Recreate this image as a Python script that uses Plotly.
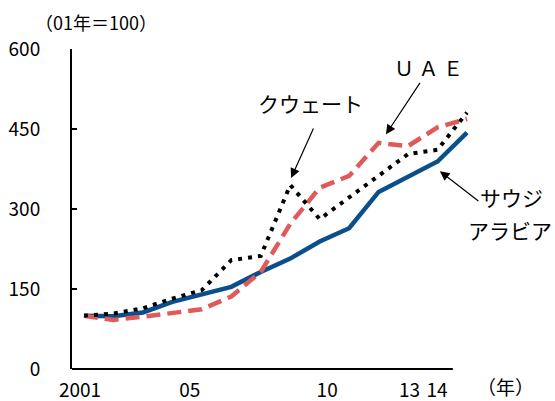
import plotly.graph_objects as go

years = list(range(2001, 2015))
saudi = [100, 99, 106, 126, 140, 154, 182, 207, 239, 264, 332, 361, 389, 443]
kuwait = [100, 104, 114, 132, 148, 204, 212, 345, 281, 321, 361, 403, 411, 481]
uae = [100, 92, 98, 104, 112, 136, 182, 272, 340, 362, 424, 418, 453, 469]

tick_years = [2001, 2005, 2010, 2013, 2014]
tick_text = ["2001", "05", "10", "13", "14"]
y_ticks = [0, 150, 300, 450, 600]

FONT = "Noto Sans CJK JP"
BLUE = "#0a4f8c"
RED = "#e05a5a"

fig = go.Figure()
fig.add_trace(go.Scatter(x=years, y=saudi, mode="lines", name="サウジアラビア",
                         line=dict(color=BLUE, width=4.5)))
fig.add_trace(go.Scatter(x=years, y=uae, mode="lines", name="UAE",
                         line=dict(color=RED, width=4.5, dash="14px,7px")))
fig.add_trace(go.Scatter(x=years, y=kuwait, mode="lines", name="クウェート",
                         line=dict(color="black", width=4, dash="4px,6px")))
# invisible trace for label axis
fig.add_trace(go.Scatter(x=[2001], y=[0], xaxis="x2", mode="markers",
                         marker=dict(opacity=0), showlegend=False, hoverinfo="skip"))

fig.update_layout(
    width=555, height=401,
    margin=dict(l=72, r=80, t=49, b=32, autoexpand=False),
    paper_bgcolor="white", plot_bgcolor="white",
    showlegend=False,
    font=dict(family=FONT, size=19, color="black"),
    xaxis=dict(range=[2000.593, 2014.272], showticklabels=False, showline=False,
               showgrid=False, zeroline=False, ticks="", automargin=False),
    xaxis2=dict(range=[2000.709, 2015.385], overlaying="x", anchor="y", side="bottom",
                tickvals=tick_years, ticktext=tick_text, showline=False, showgrid=False,
                zeroline=False, ticks="", ticklabelstandoff=8, automargin=False,
                tickfont=dict(family=FONT, size=19)),
    yaxis=dict(range=[0, 600], tickvals=y_ticks, showline=True, linecolor="black",
               linewidth=2, ticks="inside", ticklen=5, tickwidth=1.5, tickcolor="black",
               showgrid=False, zeroline=False, ticklabelstandoff=26, automargin=False,
               tickfont=dict(family=FONT, size=19)),
)

# x axis line
fig.add_shape(type="line", xref="paper", yref="paper", x0=0, x1=0.945, y0=0, y1=0,
              line=dict(color="black", width=2))

# arrows
arrows = [
    (2008.03, 358, 23, -51),
    (2011.25, 440, 35, -53),
    (2013.08, 371, 40, 31),
]
for x, y, ax, ay in arrows:
    fig.add_annotation(x=x, y=y, ax=ax, ay=ay, xref="x", yref="y", text="",
                       showarrow=True, arrowhead=2, arrowsize=1.6, arrowwidth=1.2,
                       arrowcolor="black")

def ptext(px, py, text, size=20):
    fig.add_annotation(xref="paper", yref="paper", x=(px - 72) / 403, y=(369 - py) / 320,
                       text=text, showarrow=False, xanchor="center", yanchor="middle",
                       font=dict(family=FONT, size=size, color="black"))

ptext(310, 103, "クウェート", 21)
ptext(428, 67, "Ｕ Ａ Ｅ", 20)
ptext(511, 197, "サウジ", 21)
ptext(510, 230, "アラビア", 21)
ptext(96, 22, "（01年＝100）", 18)
ptext(505, 386, "（年）", 19)

fig.write_html("out.html", config={"displayModeBar": False},
               post_script="document.body.style.margin='0';")
